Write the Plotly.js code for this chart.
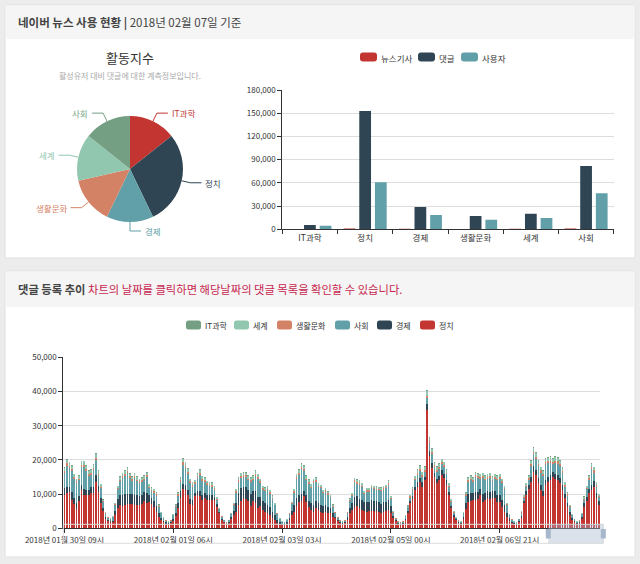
<!DOCTYPE html>
<html><head><meta charset="utf-8">
<script src="https://cdn.plot.ly/plotly-3.0.1.min.js"></script>
<style>
html,body{margin:0;padding:0;background:#ebebeb;}
#wrap{position:relative;width:640px;height:564px;overflow:hidden;}
#main,#top{position:absolute;left:0;top:0;}
</style></head><body>
<div id="wrap"><div id="main"></div><div id="top"></div></div>
<script>
// ---------- top: category summary ----------
const sections = ['IT과학', '정치', '경제', '생활문화', '세계', '사회'];
const newsArticles = [400, 1100, 700, 500, 800, 900];
const comments = [5600, 153000, 28800, 17200, 20200, 81900];
const users = [4700, 60800, 18500, 12500, 14600, 46500];
const activityIndex = [1, 2, 1, 1, 1, 1];
const topLegend = ['뉴스기사', '댓글', '사용자'];

// ---------- bottom: hourly comments ----------
const xTickLabels = ['2018년 01월 30일 09시', '2018년 02월 01일 06시', '2018년 02월 03일 03시', '2018년 02월 05일 00시', '2018년 02월 06일 21시'];
const politics = [
 9700,10200,10700,8300,7000,5600,8000,11200,9800,9800,
 9700,10400,10200,13500,10500,7500,5000,2600,2000,1700,
 1800,3800,6000,6700,6500,6800,7000,7000,7200,6800,
 6700,6700,7000,8000,7500,7600,7000,6200,4800,3200,
 2400,1700,1400,1300,1500,2200,3500,6000,9000,11500,
 11200,9700,7100,6800,9300,9700,9300,8300,9000,8400,
 8300,8400,8200,6300,4400,2500,1700,1200,1500,2600,
 3800,4900,6900,8000,8900,8700,8000,6400,7900,7400,
 5900,6400,5400,4900,4400,3900,2900,2400,1500,1200,
 1000,1000,1400,2300,3800,4900,6400,7800,7900,9300,
 7800,6300,5400,4900,5900,5400,4900,4400,4900,4400,
 4400,3400,2900,2000,1500,1300,1500,2500,4400,5400,
 6300,6500,5800,5400,5200,4900,5000,5200,5000,5200,
 4900,4400,4900,5000,5400,4400,2900,2000,1300,1100,
 1300,2400,4500,7300,8500,11200,12200,13600,12200,14100,
 34600,21000,17500,15100,13200,14100,15600,14600,12700,9700,
 5800,3400,2400,1600,1300,2800,5500,7800,8000,8300,
 8300,8500,9700,7800,8300,8800,8500,9000,8800,7800,
 7800,6300,4900,3400,2200,1500,1200,1100,1700,3000,
 7300,9700,11500,13600,16600,15600,13200,11200,9300,12700,
 13600,14100,15100,14500,14000,13200,11200,8800,6300,3900,
 2500,1700,1300,1600,2800,6300,8000,10200,11200,12200,
 8800,6800];
const economy = [
 2000,2000,1500,2300,2000,1800,1500,1500,1700,1500,
 1500,1600,1800,2000,1800,1500,900,600,400,400,
 400,1200,2500,3000,3200,3200,3000,3000,2800,3000,
 3000,2800,2800,2500,2800,2000,1800,1800,1800,1200,
 700,500,300,200,300,600,1000,1500,1800,1500,
 1500,1600,1500,1500,1000,1200,1500,1500,1300,1300,
 1300,1200,1000,800,500,300,200,200,300,700,
 1300,2500,3500,3800,3300,3300,3200,3500,3000,3500,
 3300,2800,2500,2500,2400,2200,2000,1500,1000,600,
 400,300,400,800,1300,2000,2500,2000,2000,1500,
 1800,1800,2000,2000,2000,2000,2000,2000,2000,1800,
 1500,1000,500,400,300,200,300,800,1500,2000,
 2800,2800,2800,2800,2500,2800,2800,3000,3000,2800,
 2800,2800,2800,2800,3000,2000,800,400,300,200,
 300,400,700,700,800,1000,1200,1200,1200,1000,
 1800,1500,1500,1200,1300,1300,1300,1300,1300,1000,
 800,500,300,300,200,600,1800,2200,2200,2000,
 2200,2200,1800,2200,2000,2000,2000,1800,2000,2000,
 2000,2000,1800,1200,700,400,300,200,400,700,
 800,1200,1300,1500,1500,1500,1500,1500,1500,1500,
 1500,1500,1300,1500,1500,1500,1500,1200,1200,800,
 500,400,300,300,600,1000,1200,1300,1500,1500,
 1500,1300];
const society = [
 4400,6100,5400,6200,5500,5800,4500,5200,6400,5500,
 4100,3600,5100,4500,3000,2800,1800,1100,700,600,
 1000,1700,2900,4000,5100,5300,6100,4700,3800,5000,
 4000,3700,3700,3500,4600,2200,2100,2400,2900,1900,
 1300,800,500,300,400,1100,1800,2000,2700,5600,
 4900,4500,4600,3900,2600,3800,4700,4100,3300,2900,
 2700,2600,2100,1200,600,600,400,200,500,800,
 1600,3000,3100,3000,2700,2900,2800,3600,3100,4400,
 5300,4000,3400,3500,4400,4000,3800,2800,1700,900,
 400,400,600,1100,1900,3500,5600,5800,7300,5900,
 4400,4900,4400,6300,5600,4700,4800,3800,3800,3600,
 3000,1900,1100,700,400,300,400,1200,2100,2100,
 4400,3700,4200,3800,2200,3000,2900,3500,3400,3200,
 3400,3700,3600,3900,4300,2100,900,400,300,300,
 300,700,900,1000,1800,1800,2300,2000,1700,1300,
 1800,2300,2700,1600,2100,2000,1800,1900,1800,1400,
 1200,700,300,300,300,1000,2200,3500,3800,3200,
 4400,4000,3000,4800,3700,3700,4300,2900,3700,4200,
 4700,4900,4700,2100,1000,600,300,200,500,900,
 800,1100,1300,3000,3500,3100,3400,3600,4500,4400,
 3900,3400,2300,3000,3400,3400,3400,2200,2000,1500,
 900,500,200,300,700,1100,2200,2600,4600,2600,
 1900,1000];
const lifeCulture = [
 600,700,700,600,500,500,500,700,700,600,
 600,600,600,700,600,400,300,200,100,100,
 100,300,400,500,500,600,600,500,500,500,
 500,500,500,500,600,400,400,400,400,200,
 200,100,100,100,100,100,200,400,500,700,
 700,600,500,500,500,500,600,500,500,500,
 500,400,400,300,200,100,100,100,100,200,
 300,400,500,500,600,600,500,500,500,600,
 500,500,400,400,400,400,300,200,200,100,
 100,100,100,200,300,400,500,600,600,600,
 500,500,400,500,500,400,400,400,400,400,
 300,200,200,100,100,100,100,200,300,300,
 500,500,500,400,400,400,400,400,400,400,
 400,400,400,400,500,300,200,100,100,100,
 100,100,200,300,300,500,600,600,500,600,
 600,600,600,500,500,600,600,600,500,400,
 300,200,100,100,100,200,400,500,500,500,
 600,500,500,500,500,500,500,500,500,500,
 500,500,400,300,100,100,100,100,100,200,
 300,400,500,700,800,700,700,600,600,700,
 700,700,700,700,700,700,600,500,400,200,
 100,100,100,100,200,300,400,500,600,600,
 500,300];
const world = [
 900,1000,1000,900,800,700,800,1000,1000,900,
 900,900,900,1100,900,700,400,200,200,200,
 200,400,600,800,800,900,900,800,800,800,
 800,700,800,800,800,700,600,600,500,400,
 200,200,100,100,100,200,400,500,800,1000,
 1000,900,700,700,700,800,900,800,700,700,
 700,700,600,500,300,200,100,100,100,200,
 400,600,800,800,800,800,800,800,800,900,
 800,700,600,600,600,600,500,400,200,100,
 100,100,100,200,400,600,800,900,1000,900,
 800,700,700,700,800,700,600,600,600,500,
 500,400,200,200,100,100,100,200,400,500,
 700,700,700,700,500,600,600,600,600,600,
 600,600,600,600,700,500,200,200,100,100,
 100,200,300,300,500,700,800,900,800,900,
 1300,1000,900,800,800,800,900,900,800,600,
 400,200,100,100,100,200,500,800,800,800,
 800,800,800,800,800,800,800,800,800,800,
 800,700,600,400,200,100,100,100,100,200,
 500,700,800,1000,1200,1100,1000,900,900,1000,
 1000,1100,1000,1100,1100,1000,900,700,500,300,
 200,100,100,100,200,500,600,800,900,900,
 700,500];
const itScience = [
 200,200,200,200,200,100,200,200,200,200,
 200,200,200,200,200,100,100,0,0,0,
 0,100,100,200,200,200,200,200,200,200,
 200,100,200,200,200,100,100,100,100,100,
 0,0,0,0,0,0,100,100,200,200,
 200,200,100,100,100,200,200,200,100,100,
 100,100,100,100,0,0,0,0,0,0,
 100,100,200,200,200,200,200,200,200,200,
 200,100,100,100,100,100,100,100,0,0,
 0,0,0,0,100,100,200,200,200,200,
 200,100,100,100,200,100,100,100,100,100,
 100,100,0,0,0,0,0,0,100,100,
 100,100,100,100,100,100,100,100,100,100,
 100,100,100,100,100,100,0,0,0,0,
 0,0,100,100,100,100,200,200,200,200,
 300,200,200,200,200,200,200,200,200,100,
 100,0,0,0,0,0,100,200,200,200,
 200,200,200,200,200,200,200,200,200,200,
 200,100,100,100,0,0,0,0,0,0,
 100,100,200,200,200,200,200,200,200,200,
 200,200,200,200,200,200,200,100,100,100,
 0,0,0,0,0,100,100,200,200,200,
 100,100];

// hourly category labels, one per bar, starting 2018-01-30 09시
const pad = n => String(n).padStart(2, '0');
const hours = [];
const t0 = Date.UTC(2018, 0, 30, 9);
for (let i = 0; i < politics.length; i++) {
  const d = new Date(t0 + i * 3600000);
  hours.push(`${d.getUTCFullYear()}년 ${pad(d.getUTCMonth() + 1)}월 ${pad(d.getUTCDate())}일 ${pad(d.getUTCHours())}시`);
}

const C = {red:'#c23531', dark:'#2f4554', teal:'#61a0a8', orange:'#d48265', light:'#91c7ae', green:'#749f83'};
const FONT = '"Noto Sans CJK KR", "Noto Sans", sans-serif';
const W = 640, H = 564;
const X = p => p / W, Y = p => 1 - p / H;

// rounded legend swatch path (pixel geometry -> paper coords)
function swatch(x, yc, w, h, r, X_, Y_) {
  const y0 = yc - h / 2, y1 = yc + h / 2, x1 = x + w;
  const P = (a, b) => `${X_(a)},${Y_(b)}`;
  return `M ${P(x + r, y0)} L ${P(x1 - r, y0)} Q ${P(x1, y0)} ${P(x1, y0 + r)} L ${P(x1, y1 - r)} Q ${P(x1, y1)} ${P(x1 - r, y1)} ` +
         `L ${P(x + r, y1)} Q ${P(x, y1)} ${P(x, y1 - r)} L ${P(x, y0 + r)} Q ${P(x, y0)} ${P(x + r, y0)} Z`;
}

// ---------- main figure ----------
const stackSeries = [
  ['정치', politics, C.red], ['경제', economy, C.dark], ['사회', society, C.teal],
  ['생활문화', lifeCulture, C.orange], ['세계', world, C.light], ['IT과학', itScience, C.green]
];
const traces = stackSeries.map(([name, ys, col]) => ({
  type: 'bar', name: name, x: hours, y: ys, marker: {color: col, line: {width: 0}},
  xaxis: 'x', yaxis: 'y', hoverinfo: 'none', showlegend: false
}));

const pieColors = [C.red, C.dark, C.teal, C.orange, C.light, C.green];
traces.push({
  type: 'pie', labels: sections, values: activityIndex, sort: false, direction: 'clockwise',
  rotation: 0, textinfo: 'none', hoverinfo: 'none', showlegend: false,
  marker: {colors: pieColors, line: {width: 0}},
  domain: {x: [X(77), X(183)], y: [Y(222), Y(116)]}
});

const shapes = [
  {type:'rect', xref:'paper', yref:'paper', x0:X(5), x1:X(635), y0:Y(258), y1:Y(5), fillcolor:'#ffffff', line:{color:'#e0e0e0', width:1}, layer:'below'},
  {type:'rect', xref:'paper', yref:'paper', x0:X(5.5), x1:X(634.5), y0:Y(39), y1:Y(5.5), fillcolor:'#f5f5f5', line:{width:0}, layer:'below'},
  {type:'rect', xref:'paper', yref:'paper', x0:X(5), x1:X(635), y0:Y(557), y1:Y(271), fillcolor:'#ffffff', line:{color:'#e0e0e0', width:1}, layer:'below'},
  {type:'rect', xref:'paper', yref:'paper', x0:X(5.5), x1:X(634.5), y0:Y(307), y1:Y(271.5), fillcolor:'#f5f5f5', line:{width:0}, layer:'below'},
  // dataZoom slider look
  {type:'rect', xref:'paper', yref:'paper', x0:X(63.3), x1:X(603.3), y0:Y(543.3), y1:Y(524.3), fillcolor:'rgba(0,0,0,0)', line:{color:'#dddddd', width:1}, layer:'above'},
  {type:'rect', xref:'paper', yref:'paper', x0:X(548.3), x1:X(603.3), y0:Y(543.3), y1:Y(524.3), fillcolor:'rgba(167,183,204,0.4)', line:{width:0}, layer:'above'},
  {type:'rect', xref:'paper', yref:'paper', x0:X(545.8), x1:X(550.8), y0:Y(538.5), y1:Y(529), fillcolor:'#a7b7cc', line:{width:0}, layer:'above'},
  {type:'rect', xref:'paper', yref:'paper', x0:X(600.8), x1:X(605.8), y0:Y(538.5), y1:Y(529), fillcolor:'#a7b7cc', line:{width:0}, layer:'above'}
];

const annotations = [
  {xref:'paper', yref:'paper', x:X(16), y:Y(22), xanchor:'left', yanchor:'middle', showarrow:false,
   text:'<b>네이버 뉴스 사용 현황 |</b> 2018년 02월 07일 기준', font:{family:FONT, size:11.5, color:'#444'}},
  {xref:'paper', yref:'paper', x:X(16), y:Y(289), xanchor:'left', yanchor:'middle', showarrow:false,
   text:'<b>댓글 등록 추이</b> <span style="color:#c7254e">차트의 날짜를 클릭하면 해당날짜의 댓글 목록을 확인할 수 있습니다.</span>',
   font:{family:FONT, size:11.3, color:'#444'}},
  {xref:'paper', yref:'paper', x:X(130), y:Y(58), xanchor:'center', yanchor:'middle', showarrow:false,
   text:'활동지수', font:{family:FONT, size:13, color:'#333'}},
  {xref:'paper', yref:'paper', x:X(130), y:Y(75), xanchor:'center', yanchor:'middle', showarrow:false,
   text:'활성유저 대비 댓글에 대한 계측정보입니다.', font:{family:FONT, size:8, color:'#aaaaaa'}}
];

// bottom legend (order as in the reference: reversed series order)
const bottomLegendX = [186, 234, 277, 335, 377, 420];
stackSeries.slice().reverse().forEach(([name, , col], k) => {
  shapes.push({type:'path', xref:'paper', yref:'paper', layer:'above', path: swatch(bottomLegendX[k], 325, 15, 9, 2.5, X, Y),
               fillcolor: col, line:{width:0}});
  annotations.push({xref:'paper', yref:'paper', x:X(bottomLegendX[k] + 17), y:Y(325.5), xanchor:'left', yanchor:'middle',
                    showarrow:false, text:name, font:{family:FONT, size:8, color:'#333'}});
});

// pie label lines derived from the slice angles
(function () {
  const cx = 130, cy = 169, r = 53, len1 = 9, len2 = 11;
  const total = activityIndex.reduce((a, b) => a + b, 0);
  let cum = 0;
  activityIndex.forEach((v, k) => {
    const th = 2 * Math.PI * (cum + v / 2) / total; cum += v;
    const s = Math.sin(th), c = Math.cos(th);
    const sg = s >= -1e-6 ? 1 : -1;
    const px = cx + r * s, py = cy - r * c;
    const ex = cx + (r + len1) * s, ey = cy - (r + len1) * c;
    const qx = ex + sg * len2, qy = ey;
    shapes.push({type:'path', xref:'paper', yref:'paper', layer:'above',
      path:`M ${X(px)} ${Y(py)} L ${X(ex)} ${Y(ey)} L ${X(qx)} ${Y(qy)}`,
      line:{color:pieColors[k], width:1}});
    annotations.push({xref:'paper', yref:'paper', x:X(qx + sg * 2), y:Y(qy), xanchor: sg > 0 ? 'left' : 'right',
      yanchor:'middle', showarrow:false, text:sections[k], font:{family:FONT, size:8.5, color:pieColors[k]}});
  });
})();

const layout = {
  width: W, height: H, margin: {l:0, r:0, t:0, b:0, pad:0},
  paper_bgcolor: '#ececec', plot_bgcolor: 'rgba(0,0,0,0)',
  font: {family: FONT, size: 8, color: '#333'},
  barmode: 'stack', bargap: 0.3,
  showlegend: false,
  xaxis: {domain:[X(63.3), X(600)], type:'category', showline:true, linecolor:'#333', linewidth:1,
          ticks:'outside', ticklen:4, tickcolor:'#333', tickmode:'array', tickvals:xTickLabels, ticktext:xTickLabels,
          showgrid:false, zeroline:false, tickfont:{family:FONT, size:8, color:'#333'}, automargin:false, fixedrange:true},
  yaxis: {domain:[Y(528.3), Y(357.3)], range:[0, 50000], dtick:10000, tickformat:',d', showline:true, linecolor:'#333',
          ticks:'outside', ticklen:4, tickcolor:'#333', gridcolor:'#dddddd', zeroline:false,
          tickfont:{family:FONT, size:8, color:'#333'}, automargin:false, fixedrange:true},
  shapes: shapes, annotations: annotations
};

Plotly.newPlot('main', traces, layout, {staticPlot:true, displayModeBar:false});

// ---------- top grouped bar chart (own layout for grouped mode) ----------
const TH = 260;
const YT = p => 1 - p / TH;
const topColors = [C.red, C.dark, C.teal];
const topTraces = [newsArticles, comments, users].map((ys, k) => ({
  type:'bar', name:topLegend[k], x:sections, y:ys, marker:{color:topColors[k]}, showlegend:false
}));
const topSwatchX = [360, 418, 461];
const topShapes = topLegend.map((n, k) => ({type:'path', xref:'paper', yref:'paper', path: swatch(topSwatchX[k], 57, 17, 9, 3, X, YT),
  fillcolor: topColors[k], line:{width:0}}));
const topAnn = topLegend.map((n, k) => ({xref:'paper', yref:'paper', x:X(topSwatchX[k] + 19), y:YT(57.5), xanchor:'left', yanchor:'middle',
  showarrow:false, text:n, font:{family:FONT, size:8.5, color:'#333'}}));
const topLayout = {
  width: W, height: TH, margin: {l:0, r:0, t:0, b:0, pad:0},
  paper_bgcolor: 'rgba(0,0,0,0)', plot_bgcolor: 'rgba(0,0,0,0)',
  font: {family: FONT, size: 8, color: '#333'},
  barmode: 'group', bargap: 0.15, bargroupgap: 0.25,
  showlegend: false,
  xaxis: {domain:[X(282.3), X(613.7)], type:'category', showline:true, linecolor:'#333', ticks:'outside',
          tickson:'boundaries', ticklen:4, tickcolor:'#333', showgrid:false, zeroline:false,
          tickfont:{family:FONT, size:8.5, color:'#333'}, automargin:false, fixedrange:true},
  yaxis: {domain:[YT(229.3), YT(90)], range:[0, 180000], dtick:30000, tickformat:',d', showline:true, linecolor:'#333',
          ticks:'outside', ticklen:4, tickcolor:'#333', gridcolor:'#dddddd', zeroline:false,
          tickfont:{family:FONT, size:8, color:'#333'}, automargin:false, fixedrange:true},
  shapes: topShapes, annotations: topAnn
};
Plotly.newPlot('top', topTraces, topLayout, {staticPlot:true, displayModeBar:false});
</script></body></html>
